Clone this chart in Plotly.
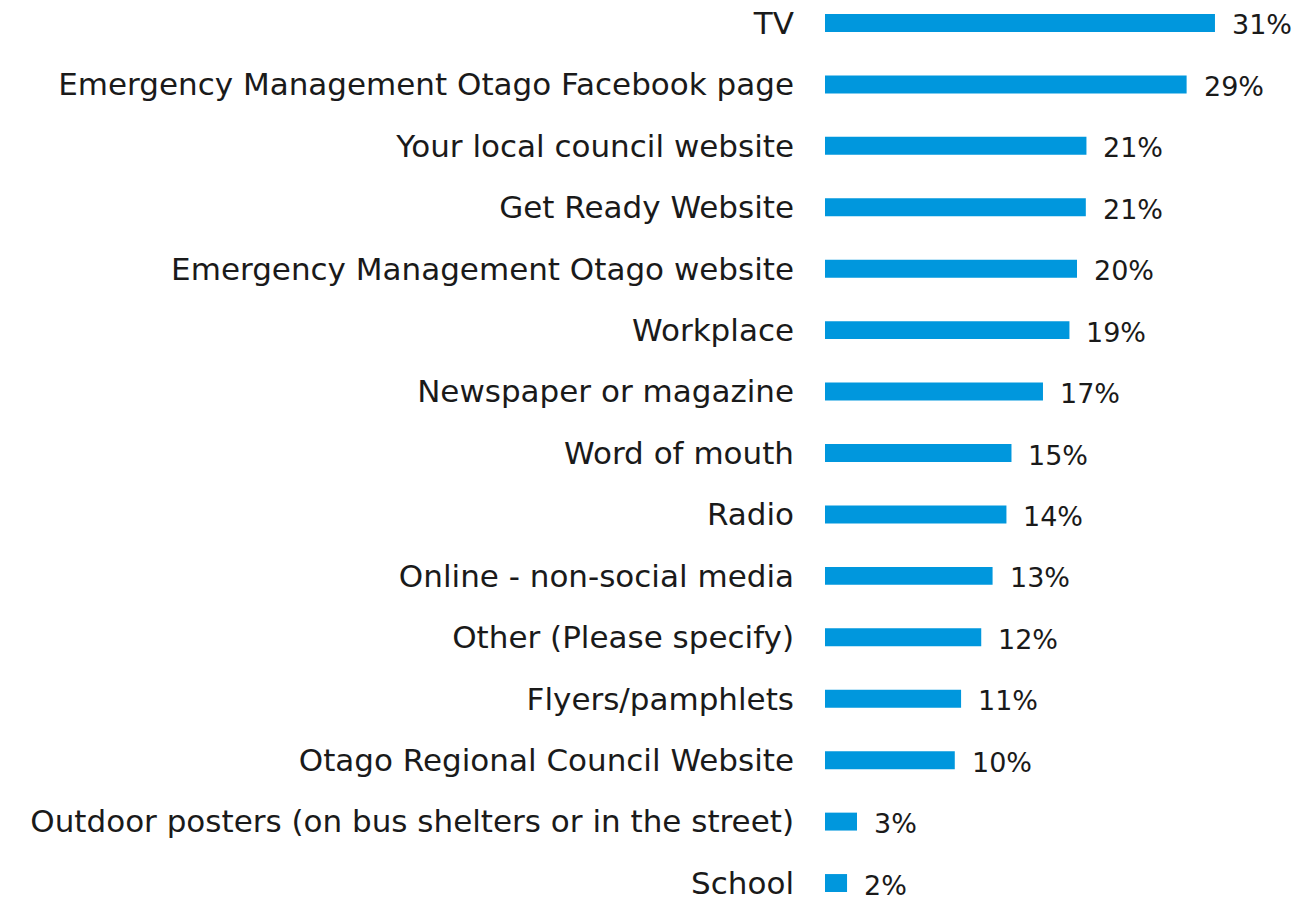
import plotly.graph_objects as go

categories = [
    "TV",
    "Emergency Management Otago Facebook page",
    "Your local council website",
    "Get Ready Website",
    "Emergency Management Otago website",
    "Workplace",
    "Newspaper or magazine",
    "Word of mouth",
    "Radio",
    "Online - non-social media",
    "Other (Please specify)",
    "Flyers/pamphlets",
    "Otago Regional Council Website",
    "Outdoor posters (on bus shelters or in the street)",
    "School",
]
values = [30.95, 28.7, 20.75, 20.7, 20.0, 19.4, 17.3, 14.8, 14.4, 13.3, 12.4, 10.8, 10.3, 2.54, 1.75]
labels = ["31%", "29%", "21%", "21%", "20%", "19%", "17%", "15%", "14%", "13%", "12%", "11%", "10%", "3%", "2%"]

FONT = "DejaVu Sans"
fig = go.Figure()
fig.add_trace(go.Bar(
    x=values, y=categories, orientation="h",
    marker=dict(color="#0097DD", line=dict(width=0)),
    width=0.292, hoverinfo="skip",
))
for c, v, t in zip(categories, values, labels):
    fig.add_annotation(x=v, y=c, text=t, showarrow=False, xanchor="left",
                       yanchor="middle", xshift=15, yshift=-2,
                       font=dict(family=FONT, size=27, color="#1a1a1a"))

fig.update_layout(
    width=1296, height=901,
    margin=dict(l=825, r=0, t=0, b=0),
    plot_bgcolor="white", paper_bgcolor="white",
    showlegend=False,
    xaxis=dict(range=[0, 471 / 12.6], visible=False, fixedrange=True),
    yaxis=dict(range=[14.26, -0.374], autorange=False, showgrid=False, showline=False,
               zeroline=False, ticks="", ticklabelstandoff=30, fixedrange=True,
               tickfont=dict(family=FONT, size=31, color="#1a1a1a")),
)
fig.write_html("out.html", config={"displayModeBar": False},
               post_script="document.body.style.margin='0';document.body.style.overflow='hidden';")
